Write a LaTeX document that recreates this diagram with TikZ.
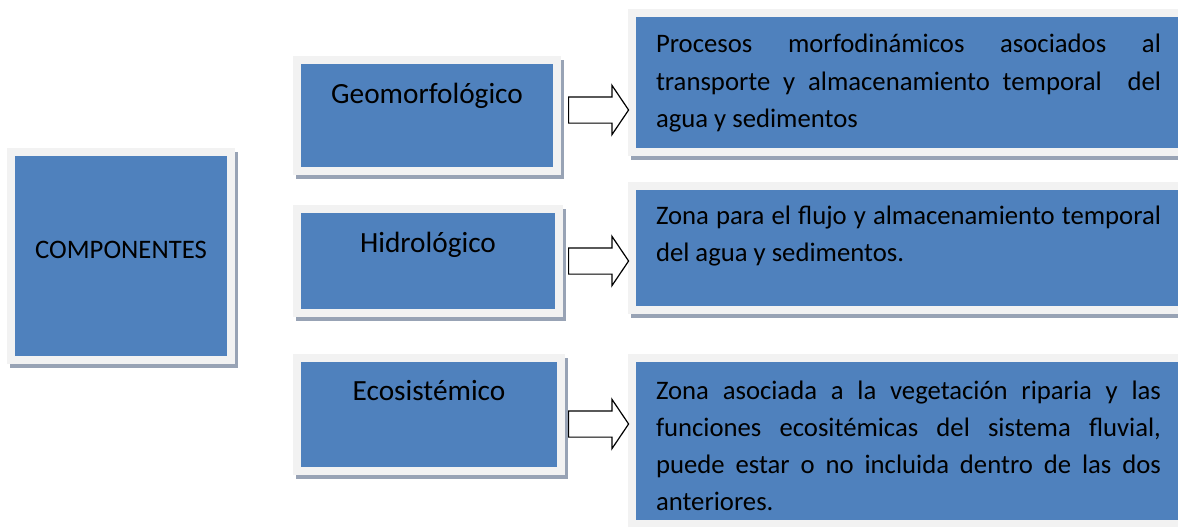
\documentclass[tikz,border=0pt]{standalone}
\usepackage{fontspec}
\setmainfont{Carlito}
\usetikzlibrary{shapes.arrows,shadows}
\definecolor{boxblue}{HTML}{4F81BD}
\definecolor{framegray}{HTML}{F2F2F2}
\definecolor{shadegray}{HTML}{98A3B5}

\begin{document}
\begin{tikzpicture}[x=1pt,y=-1pt,
   box/.style={fill=boxblue,draw=framegray,line width=8pt,inner sep=0pt,
     outer sep=0pt,anchor=north west,
     drop shadow={shadow xshift=3pt,shadow yshift=-4pt,fill=shadegray,
       draw=shadegray,line width=8pt,opacity=1}},
   part/.style={box,align=center,font=\fontsize{29.3}{35}\selectfont},
   desc/.style={box,text width=505pt,inner xsep=24pt,align=justify,
     font=\fontsize{26.7}{37}\selectfont},
   flow/.style={single arrow,draw=black,fill=white,line width=1.2pt,
     minimum height=60pt,inner xsep=0pt,inner ysep=12.5pt,
     single arrow head extend=11.5pt,single arrow tip angle=112,anchor=tail}]
   \path[use as bounding box,clip] (0,0) rectangle (1178,527);
   % left box
   \node[box,text width=220pt,align=center,text height=106pt,text depth=101.5pt,
     font=\fontsize{26.7}{32}\selectfont] (comp) at (11,152) {COMPONENTES};
   % the three parts
   \node[part,text width=260pt,text height=42.5pt,text depth=67.5pt] (geo)
     at (297,60.5) {Geomorfológico};
   \node[part,text width=262pt,text height=43pt,text depth=61pt] (hidro)
     at (297,209) {Hidrológico};
   \node[part,text width=264pt,text height=42pt,text depth=71pt] (eco)
     at (297,358) {Ecosistémico};
   % descriptions
   \node[desc,text height=40pt,text depth=99pt] (tgeo) at (632,13)
     {Procesos morfodinámicos asociados al\linebreak transporte y almacenamiento
      temporal\ \ del\linebreak agua y sedimentos};
   \node[desc,text height=38pt,text depth=86pt] (thidro) at (632,186)
     {Zona para el flujo y almacenamiento temporal\linebreak del agua y sedimentos.};
   \node[desc,text height=41pt,text depth=125pt] (teco) at (632,358)
     {Zona asociada a la vegetación riparia y las\linebreak funciones ecositémicas
      del sistema fluvial,\linebreak puede estar o no incluida dentro de las
      dos\linebreak anteriores.};
   % arrows
   \node[flow] (a1) at (568,110) {};
   \node[flow] (a2) at (568,261) {};
   \node[flow] (a3) at (568,424) {};
\end{tikzpicture}
\end{document}
